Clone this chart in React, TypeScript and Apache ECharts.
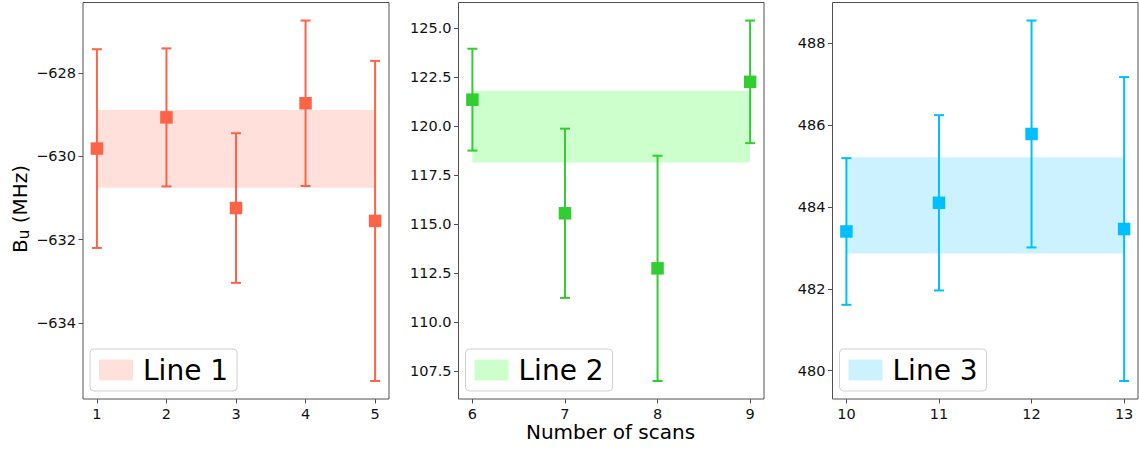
import { useEffect, useRef } from "react";
import * as echarts from "echarts";

// Line 1
const scans1 = [1, 2, 3, 4, 5];
const values1 = [-629.81, -629.06, -631.24, -628.72, -631.55];
const errors1 = [2.39, 1.66, 1.8, 1.99, 3.85];
const band1 = [-630.75, -628.88];
const yTicks1 = [-634, -632, -630, -628];

// Line 2
const scans2 = [6, 7, 8, 9];
const values2 = [121.35, 115.55, 112.74, 122.26];
const errors2 = [2.6, 4.32, 5.75, 3.13];
const band2 = [118.14, 121.8];
const yTicks2 = [107.5, 110, 112.5, 115, 117.5, 120, 122.5, 125];

// Line 3
const scans3 = [10, 11, 12, 13];
const values3 = [483.4, 484.1, 485.78, 483.46];
const errors3 = [1.79, 2.14, 2.77, 3.71];
const band3 = [482.86, 485.21];
const yTicks3 = [480, 482, 484, 486, 488];

const lineNames = ["Line 1", "Line 2", "Line 3"];
const lineColors = ["#ff6347", "#32cd32", "#00bfff"];
const bandColors = ["rgba(255,99,71,0.2)", "rgba(0,255,0,0.2)", "rgba(0,191,255,0.2)"];

const FONT = "DejaVu Sans";
const FRAME = "#505050";

type Panel = {
  scans: number[];
  values: number[];
  errors: number[];
  band: number[];
  yTicks: number[];
  fmt: (v: number) => string;
};

const panels: Panel[] = [
  { scans: scans1, values: values1, errors: errors1, band: band1, yTicks: yTicks1, fmt: (v) => String(v).replace("-", "\u2212") },
  { scans: scans2, values: values2, errors: errors2, band: band2, yTicks: yTicks2, fmt: (v) => v.toFixed(1) },
  { scans: scans3, values: values3, errors: errors3, band: band3, yTicks: yTicks3, fmt: (v) => String(v) },
];

const gridLefts = [83, 458.5, 832.5];
const gridWidths = [306, 305.5, 305.5];
const gridTop = 2.5;
const gridHeight = 396.5;

// autoscale with a 5% margin on each side
function padded(lo: number, hi: number): [number, number] {
  const m = (hi - lo) * 0.05;
  return [lo - m, hi + m];
}

function buildOption() {
  const grid: any[] = [];
  const xAxis: any[] = [];
  const yAxis: any[] = [];
  const series: any[] = [];
  const legend: any[] = [];

  panels.forEach((p, i) => {
    const color = lineColors[i];
    const [xMin, xMax] = padded(p.scans[0], p.scans[p.scans.length - 1]);
    const lows = p.values.map((v, k) => v - p.errors[k]);
    const highs = p.values.map((v, k) => v + p.errors[k]);
    const [yMin, yMax] = padded(Math.min(...lows), Math.max(...highs));

    grid.push({
      left: gridLefts[i],
      top: gridTop,
      width: gridWidths[i],
      height: gridHeight,
      show: true,
      borderColor: FRAME,
      borderWidth: 1,
      backgroundColor: "transparent",
    });

    xAxis.push({
      gridIndex: i,
      type: "value",
      min: xMin,
      max: xMax,
      splitLine: { show: false },
      axisLine: { show: false },
      axisTick: { show: true, length: 4.5, lineStyle: { color: FRAME, width: 1 }, customValues: p.scans },
      axisLabel: {
        customValues: p.scans,
        fontSize: 14.5,
        fontFamily: FONT,
        color: "#111",
        margin: 7,
        lineHeight: 15,
        formatter: (v: number) => String(v),
      },
    });

    yAxis.push({
      gridIndex: i,
      type: "value",
      min: yMin,
      max: yMax,
      splitLine: { show: false },
      axisLine: { show: false },
      axisTick: { show: true, length: 4.5, lineStyle: { color: FRAME, width: 1 }, customValues: p.yTicks },
      axisLabel: {
        customValues: p.yTicks,
        fontSize: 14.5,
        fontFamily: FONT,
        color: "#111",
        margin: 7,
        formatter: (v: number) => p.fmt(v),
      },
    });

    // shaded band spanning the scan range
    series.push({
      type: "custom",
      name: lineNames[i],
      xAxisIndex: i,
      yAxisIndex: i,
      z: 1,
      itemStyle: { color: bandColors[i] },
      data: [[p.scans[0], p.scans[p.scans.length - 1], p.band[0], p.band[1]]],
      renderItem: (_params: any, api: any) => {
        const a = api.coord([api.value(0), api.value(3)]);
        const b = api.coord([api.value(1), api.value(2)]);
        return {
          type: "rect",
          shape: { x: a[0], y: a[1], width: b[0] - a[0], height: b[1] - a[1] },
          style: { fill: bandColors[i] },
        };
      },
    });

    // error bars with caps
    series.push({
      type: "custom",
      name: lineNames[i] + " errors",
      xAxisIndex: i,
      yAxisIndex: i,
      z: 2,
      data: p.scans.map((x, k) => [x, lows[k], highs[k]]),
      renderItem: (_params: any, api: any) => {
        const top = api.coord([api.value(0), api.value(2)]);
        const bot = api.coord([api.value(0), api.value(1)]);
        const cap = 5;
        const style = { stroke: color, lineWidth: 2 };
        return {
          type: "group",
          children: [
            { type: "line", shape: { x1: top[0], y1: top[1], x2: bot[0], y2: bot[1] }, style },
            { type: "line", shape: { x1: top[0] - cap, y1: top[1], x2: top[0] + cap, y2: top[1] }, style },
            { type: "line", shape: { x1: bot[0] - cap, y1: bot[1], x2: bot[0] + cap, y2: bot[1] }, style },
          ],
        };
      },
    });

    // square markers
    series.push({
      type: "scatter",
      name: lineNames[i] + " points",
      xAxisIndex: i,
      yAxisIndex: i,
      z: 3,
      symbol: "rect",
      symbolSize: 12.5,
      itemStyle: { color, opacity: 1 },
      data: p.scans.map((x, k) => [x, p.values[k]]),
    });

    legend.push({
      data: [lineNames[i]],
      left: gridLefts[i] + 7,
      bottom: 61,
      orient: "horizontal",
      selectedMode: false,
      icon: "rect",
      itemWidth: 34,
      itemHeight: 21,
      padding: [6, 9, 6, 9],
      borderColor: "#d0d0d0",
      borderWidth: 1,
      borderRadius: 4,
      backgroundColor: "rgba(255,255,255,0.8)",
      textStyle: { fontSize: 28, fontFamily: FONT, color: "#000", lineHeight: 30, padding: [0, 0, 0, 5] },
    });
  });

  const graphic: any[] = [
    {
      type: "text",
      x: 610.5,
      y: 432,
      style: {
        text: "Number of scans",
        fontSize: 20,
        lineHeight: 18,
        fontFamily: FONT,
        fill: "#000",
        align: "center",
        verticalAlign: "middle",
      },
    },
    {
      type: "group",
      x: 19.5,
      y: 253,
      rotation: Math.PI / 2,
      children: [
        { type: "text", x: 0, y: 0, style: { text: "B", fontSize: 20, fontFamily: FONT, fill: "#000", align: "left", verticalAlign: "middle" } },
        { type: "text", x: 13.7, y: 4, style: { text: "u", fontSize: 15, fontFamily: FONT, fill: "#000", align: "left", verticalAlign: "middle" } },
        { type: "text", x: 23.3, y: 0, style: { text: " (MHz)", fontSize: 20, fontFamily: FONT, fill: "#000", align: "left", verticalAlign: "middle" } },
      ],
    },
  ];

  return {
    animation: false,
    backgroundColor: "#fff",
    grid,
    xAxis,
    yAxis,
    series,
    legend,
    graphic,
  };
}

export default function App() {
  const ref = useRef<HTMLDivElement>(null);

  useEffect(() => {
    if (!ref.current) return;
    const chart = echarts.init(ref.current, null, { renderer: "svg" });
    chart.setOption(buildOption());
    return () => chart.dispose();
  }, []);

  return (
    <div
      ref={ref}
      style={{ position: "fixed", left: 0, top: 0, width: 1139, height: 452, background: "#fff" }}
    />
  );
}
